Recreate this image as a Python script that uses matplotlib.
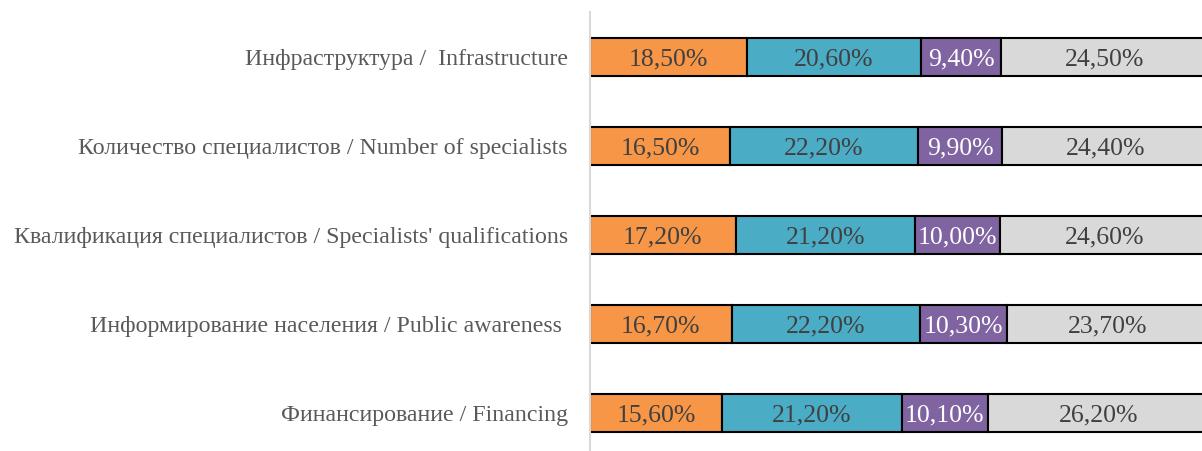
import matplotlib
matplotlib.use("Agg")
import matplotlib.pyplot as plt
import numpy as np

categories = [
    "Инфраструктура /  Infrastructure",
    "Количество специалистов / Number of specialists",
    "Квалификация специалистов / Specialists' qualifications",
    "Информирование населения / Public awareness ",
    "Финансирование / Financing",
]
s1 = [18.5, 16.5, 17.2, 16.7, 15.6]
s2 = [20.6, 22.2, 21.2, 22.2, 21.2]
s3 = [9.4, 9.9, 10.0, 10.3, 10.1]
s4 = [24.5, 24.4, 24.6, 23.7, 26.2]
series = [s1, s2, s3, s4]
colors = ["#F79646", "#4BACC6", "#8064A2", "#D9D9D9"]
text_colors = ["#404040", "#404040", "#FFFFFF", "#404040"]

plt.rcParams['font.family'] = ['Liberation Serif', 'DejaVu Serif']

fig = plt.figure(figsize=(12.02, 4.51), dpi=100)
ax = fig.add_axes([590/1202, 0, 1 - 590/1202, 1 - 12/451])

y = np.arange(len(categories))
left = np.zeros(len(categories))
for vals, c, tc in zip(series, colors, text_colors):
    vals = np.array(vals)
    bars = ax.barh(y, vals, left=left, height=0.43, color=c, edgecolor="black", linewidth=1.5)
    for yi, l, v in zip(y, left, vals):
        ax.text(l + v / 2, yi, f"{v:.2f}%".replace(".", ","), ha="center", va="center_baseline",
                color=tc, fontsize=18.5)
    left += vals

ax.set_xlim(0, 72.2)
ax.set_ylim(4 + 0.427, -0.506)
ax.set_yticks(y)
ax.set_yticklabels(categories, fontsize=17.2, color="#595959")
ax.tick_params(axis="y", length=0, pad=16)
ax.set_xticks([])
for s in ["top", "right", "bottom"]:
    ax.spines[s].set_visible(False)
ax.spines["left"].set_color("#D9D9D9")
ax.spines["left"].set_linewidth(1.5)

fig.savefig("out.png", dpi=100)
